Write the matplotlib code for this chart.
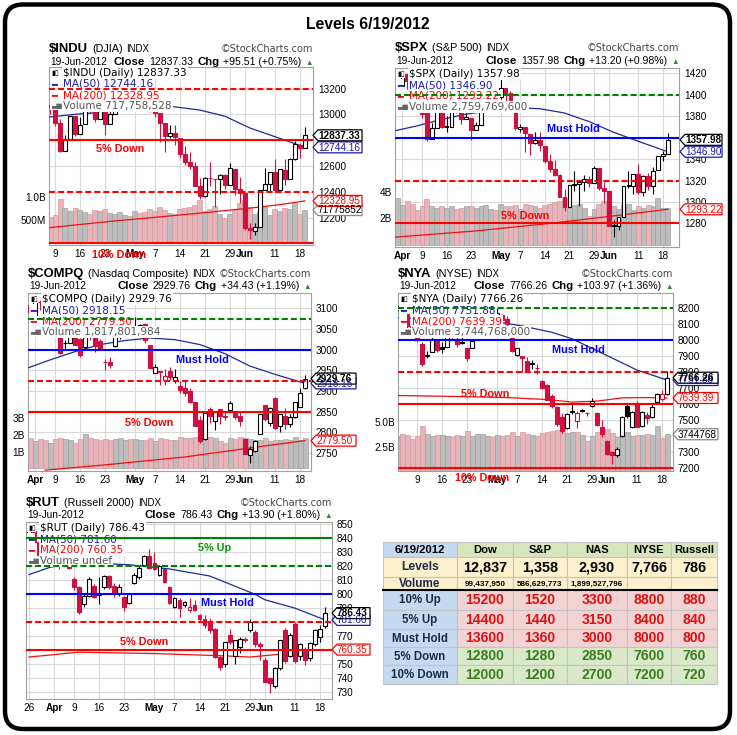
import numpy as np
import matplotlib
matplotlib.use("Agg")
import matplotlib.pyplot as plt
from matplotlib.patches import Polygon, FancyBboxPatch, Rectangle

plt.rcParams["font.family"] = ["Liberation Sans", "DejaVu Sans"]

W, H = 737, 735

# ---- trading days, index 0 = 26-Mar-2012 ... index 59 = 19-Jun-2012
tick_idx = [0, 5, 9, 14, 19, 25, 29, 34, 39, 44, 47, 53, 58]
tick_lbl = ["26", "Apr", "9", "16", "23", "May", "7", "14", "21", "29", "Jun", "11", "18"]
MONTHS = {"Apr", "May", "Jun"}

# ---- $INDU
indu_open = [13081, 13241, 13197, 13124, 13147, 13211, 13263, 13198, 13073, 13058,
             12929, 12717, 12806, 12985, 12850, 12922, 13114, 13032, 12965, 13027,
             12927, 13003, 13091, 13204, 13228, 13214, 13276, 13268, 13206, 13038,
             13007, 12932, 12835, 12853, 12820, 12695, 12632, 12598, 12442, 12370,
             12504, 12502, 12495, 12529, 12456, 12579, 12420, 12391, 12119, 12097,
             12130, 12417, 12457, 12555, 12413, 12571, 12497, 12651, 12766, 12742]
indu_high = [13244, 13290, 13218, 13148, 13235, 13290, 13297, 13198, 13080, 13058,
             12963, 12836, 12990, 12985, 12977, 13131, 13114, 13097, 13090, 13027,
             13031, 13098, 13206, 13264, 13236, 13338, 13276, 13282, 13206, 13066,
             13007, 12932, 12918, 12917, 12820, 12758, 12709, 12633, 12509, 12516,
             12628, 12502, 12537, 12535, 12621, 12579, 12511, 12391, 12156, 12157,
             12416, 12585, 12555, 12650, 12580, 12650, 12664, 12790, 12777, 12900]
indu_low = [13081, 13190, 13090, 13040, 13146, 13144, 13143, 13040, 13001, 12910,
            12710, 12717, 12806, 12830, 12850, 12922, 13013, 12942, 12965, 12843,
            12927, 13003, 13060, 13165, 13176, 13182, 13161, 13166, 13018, 12983,
            12787, 12710, 12815, 12763, 12660, 12610, 12580, 12442, 12342, 12357,
            12443, 12283, 12383, 12421, 12456, 12377, 12310, 12107, 12035, 12063,
            12130, 12417, 12398, 12397, 12404, 12451, 12497, 12649, 12665, 12742]
indu_close = [13242, 13198, 13126, 13146, 13212, 13264, 13200, 13075, 13060, 12930,
              12716, 12805, 12987, 12850, 12921, 13116, 13033, 12964, 13029, 12927,
              13002, 13091, 13205, 13228, 13214, 13279, 13269, 13207, 13038, 13009,
              12932, 12835, 12855, 12821, 12695, 12632, 12599, 12442, 12369, 12504,
              12503, 12496, 12530, 12455, 12581, 12420, 12393, 12119, 12101, 12128,
              12415, 12461, 12554, 12411, 12574, 12496, 12652, 12767, 12742, 12837.33]
indu_vol_m = [620, 640, 660, 650, 700, 600, 690, 650, 560, 600, 950, 760, 700, 770, 720,
              680, 640, 720, 700, 740, 660, 640, 680, 620, 580, 690, 660, 680, 740, 700,
              780, 720, 660, 640, 740, 770, 790, 820, 940, 690, 740, 810, 640, 540, 640,
              740, 870, 930, 780, 640, 700, 780, 620, 730, 690, 770, 750, 900, 640, 718]
indu_ma50_x = [7, 13, 18, 23, 28, 33, 38, 43, 48, 52, 55, 59]
indu_ma50_y = [12975, 13000, 13015, 13045, 13064, 13058, 13033, 12985, 12894, 12840, 12800, 12744.16]
indu_ma200_x = [7, 20, 30, 38, 48, 54, 59]
indu_ma200_y = [12118, 12170, 12205, 12234, 12273, 12300, 12328.95]
indu_levels = [13200, 12800, 12400, 12000]
indu_lstyle = ["r--", "r", "r--", "r"]

# ---- $SPX
spx_open = [1397, 1417, 1413, 1405, 1404, 1408, 1419, 1413, 1399, 1397,
            1383, 1359, 1369, 1387, 1371, 1370, 1390, 1385, 1377, 1378,
            1367, 1372, 1390, 1400, 1403, 1398, 1406, 1402, 1391, 1368,
            1370, 1363, 1355, 1358, 1352, 1338, 1331, 1325, 1305, 1295,
            1316, 1317, 1319, 1321, 1318, 1332, 1313, 1310, 1278, 1278,
            1286, 1316, 1315, 1326, 1309, 1324, 1315, 1330, 1343, 1345]
spx_high = [1417, 1420, 1415, 1405, 1410, 1422, 1419, 1413, 1401, 1397,
            1384, 1374, 1388, 1387, 1380, 1392, 1390, 1391, 1387, 1378,
            1375, 1391, 1402, 1406, 1403, 1415, 1406, 1404, 1391, 1373,
            1370, 1363, 1365, 1365, 1352, 1345, 1339, 1326, 1312, 1316,
            1329, 1320, 1325, 1324, 1334, 1332, 1319, 1310, 1283, 1286,
            1315, 1329, 1326, 1335, 1325, 1327, 1333, 1343, 1348, 1364]
spx_low = [1397, 1411, 1400, 1392, 1401, 1404, 1405, 1394, 1393, 1378,
           1357, 1359, 1369, 1369, 1365, 1370, 1383, 1373, 1377, 1358,
           1367, 1372, 1387, 1397, 1394, 1396, 1393, 1388, 1367, 1365,
           1347, 1344, 1354, 1348, 1336, 1328, 1324, 1305, 1292, 1295,
           1310, 1296, 1310, 1314, 1318, 1311, 1299, 1278, 1267, 1274,
           1286, 1313, 1307, 1307, 1306, 1311, 1307, 1330, 1338, 1345]
spx_close = [1417, 1413, 1406, 1403, 1408, 1419, 1413, 1399, 1398, 1382,
             1359, 1369, 1388, 1370, 1370, 1391, 1385, 1377, 1379, 1367,
             1372, 1391, 1400, 1403, 1398, 1406, 1402, 1392, 1369, 1370,
             1364, 1355, 1358, 1353, 1338, 1331, 1325, 1305, 1295, 1316,
             1317, 1319, 1321, 1318, 1332, 1313, 1310, 1278, 1278, 1286,
             1315, 1315, 1326, 1309, 1324, 1315, 1329, 1343, 1345, 1357.98]
spx_vol_m = [3200, 3100, 3300, 3200, 3500, 3000, 3300, 3100, 2600, 2900, 3450, 2900, 2800, 2900, 2800,
             2900, 2700, 2800, 2900, 2900, 2800, 2900, 3000, 2700, 2600, 3100, 2900, 2900, 3000, 2700,
             3100, 3000, 2900, 2800, 3000, 3100, 3200, 3300, 3500, 2800, 3000, 3100, 2800, 2200, 2700,
             3100, 3300, 3300, 2900, 2700, 3000, 3100, 2600, 2900, 2800, 3000, 2900, 3500, 2800, 2760]
spx_ma50_x = [3, 8, 13, 18, 23, 28, 33, 38, 43, 48, 54, 59]
spx_ma50_y = [1366, 1371, 1377, 1382, 1385, 1388, 1387, 1383, 1375, 1365, 1355, 1346.90]
spx_ma200_x = [3, 20, 35, 48, 59]
spx_ma200_y = [1267, 1273, 1280, 1287, 1293.22]
spx_levels = [1400, 1360, 1320, 1280]
spx_lstyle = ["g--", "b", "r--", "r"]

# ---- $COMPQ
compq_open = [3095, 3126, 3122, 3092, 3109, 3083, 3116, 3090, 3064, 3048,
              3050, 3015, 3017, 3043, 3026, 3006, 3035, 3030, 3020, 2970,
              2971, 3008, 3032, 3059, 3063, 3044, 3039, 3062, 3010, 2944,
              2947, 2926, 2948, 2924, 2913, 2908, 2899, 2872, 2830, 2783,
              2857, 2827, 2856, 2837, 2853, 2846, 2838, 2783, 2744, 2754,
              2795, 2867, 2822, 2883, 2814, 2839, 2820, 2837, 2862, 2906]
compq_high = [3123, 3134, 3124, 3105, 3110, 3120, 3120, 3092, 3086, 3065,
              3057, 3024, 3057, 3043, 3027, 3044, 3047, 3046, 3025, 2977,
              2981, 3031, 3054, 3076, 3064, 3080, 3062, 3064, 3011, 2966,
              2949, 2952, 2957, 2952, 2924, 2925, 2906, 2874, 2840, 2847,
              2861, 2851, 2856, 2848, 2876, 2850, 2848, 2783, 2767, 2782,
              2845, 2867, 2860, 2884, 2843, 2858, 2843, 2873, 2907, 2939]
compq_low = [3091, 3117, 3090, 3076, 3085, 3073, 3095, 3058, 3058, 3039,
             2990, 3002, 3015, 3010, 2981, 3002, 3024, 2994, 2998, 2950,
             2955, 3006, 3026, 3054, 3040, 3044, 3036, 3017, 2956, 2943,
             2914, 2915, 2927, 2920, 2895, 2887, 2871, 2814, 2775, 2780,
             2822, 2805, 2820, 2830, 2851, 2831, 2814, 2746, 2726, 2752,
             2795, 2828, 2816, 2808, 2800, 2807, 2813, 2834, 2861, 2905]
compq_close = [3123, 3120, 3105, 3095, 3092, 3120, 3114, 3068, 3081, 3047,
               2991, 3016, 3056, 3011, 2988, 3043, 3031, 3008, 3000, 2970,
               2962, 3030, 3051, 3069, 3046, 3050, 3060, 3024, 2956, 2958,
               2946, 2935, 2934, 2934, 2903, 2894, 2874, 2814, 2779, 2847,
               2839, 2850, 2839, 2838, 2871, 2837, 2827, 2747, 2760, 2778,
               2845, 2831, 2858, 2810, 2843, 2819, 2836, 2873, 2895, 2929.76]
compq_vol_m = [1700, 1650, 1750, 1700, 1800, 1650, 1750, 1700, 1500, 1750, 1800, 1750, 1700, 1500, 1750,
               2050, 1800, 1750, 1700, 1750, 1700, 1750, 1800, 1700, 1750, 1750, 1700, 1700, 1800, 1650,
               1800, 1750, 1700, 1700, 1850, 1800, 1800, 1900, 2100, 1900, 1850, 1800, 1650, 1500, 1800,
               1750, 1850, 1800, 1750, 1700, 1700, 1800, 1650, 1700, 1700, 1750, 1700, 1900, 1700, 1818]
compq_ma50_x = [3, 8, 13, 18, 23, 28, 33, 38, 43, 48, 53, 59]
compq_ma50_y = [2953, 2975, 2995, 3012, 3022, 3028, 3024, 3012, 2990, 2960, 2940, 2918.15]
compq_ma200_x = [7, 20, 35, 47, 53, 59]
compq_ma200_y = [2708, 2722, 2740, 2760, 2770, 2779.50]
compq_levels = [3075, 3000, 2925, 2850]
compq_lstyle = ["g--", "b", "r--", "r"]

# ---- $NYA
nya_open = [8190, 8235, 8220, 8160, 8165, 8190, 8215, 8165, 8090, 8030,
            7980, 7900, 7930, 8005, 7960, 7960, 8050, 8010, 7990, 7950,
            7955, 8040, 8095, 8140, 8160, 8110, 8160, 8135, 8030, 7910,
            7900, 7870, 7850, 7825, 7745, 7720, 7655, 7585, 7520, 7450,
            7560, 7495, 7562, 7548, 7590, 7545, 7460, 7370, 7300, 7280,
            7400, 7590, 7460, 7610, 7465, 7535, 7520, 7615, 7635, 7665]
nya_high = [8240, 8250, 8225, 8175, 8200, 8230, 8215, 8165, 8105, 8035,
            7990, 7935, 8020, 8010, 7990, 8070, 8060, 8030, 8020, 7955,
            8000, 8095, 8140, 8170, 8165, 8200, 8165, 8150, 8035, 7955,
            7905, 7895, 7880, 7855, 7750, 7730, 7665, 7590, 7545, 7545,
            7600, 7560, 7570, 7555, 7640, 7550, 7500, 7375, 7310, 7335,
            7525, 7610, 7560, 7620, 7560, 7550, 7600, 7670, 7690, 7810]
nya_low = [8185, 8215, 8150, 8120, 8150, 8170, 8150, 8080, 8070, 7990,
           7840, 7890, 7925, 7930, 7920, 7960, 8010, 7960, 7975, 7870,
           7950, 8035, 8080, 8125, 8120, 8105, 8100, 8080, 7930, 7905,
           7800, 7800, 7820, 7790, 7695, 7625, 7580, 7465, 7420, 7445,
           7540, 7450, 7550, 7530, 7585, 7465, 7395, 7285, 7225, 7270,
           7395, 7515, 7450, 7455, 7460, 7480, 7515, 7605, 7620, 7660]
nya_close = [8235, 8220, 8165, 8160, 8190, 8215, 8170, 8090, 8085, 8000,
             7850, 7910, 8010, 7940, 7945, 8060, 8025, 7975, 7985, 7890,
             7995, 8090, 8135, 8160, 8130, 8170, 8125, 8100, 7935, 7950,
             7890, 7815, 7860, 7830, 7700, 7630, 7590, 7480, 7430, 7540,
             7550, 7548, 7556, 7545, 7620, 7470, 7415, 7290, 7285, 7320,
             7520, 7525, 7555, 7460, 7555, 7515, 7585, 7665, 7662, 7766.26]
nya_vol_m = [3800, 3700, 3900, 3800, 4100, 3600, 3800, 3700, 3300, 3600, 4600, 3800, 3600, 3700, 3700,
             3600, 3500, 3700, 3600, 4100, 3600, 3800, 3800, 3600, 3500, 3700, 3600, 3700, 4000, 3600,
             4000, 3800, 3700, 3600, 3900, 4000, 4100, 4200, 4600, 3900, 4000, 4000, 3700, 3100, 3600,
             4000, 4200, 4300, 3900, 3500, 3800, 4000, 3600, 3700, 3700, 3800, 3700, 4600, 3400, 3745]
nya_ma50_x = [5, 15, 23, 30, 36, 40, 46, 53, 59]
nya_ma50_y = [8140, 8135, 8127, 8090, 8050, 8010, 7920, 7814, 7751.88]
nya_ma200_x = [5, 15, 27, 35, 40, 45, 50, 55, 59]
nya_ma200_y = [7655, 7650, 7642, 7630, 7614, 7620, 7640, 7642, 7639.39]
nya_levels = [8200, 8000, 7800, 7600, 7200]
nya_lstyle = ["g--", "b", "r--", "r", "r"]

# ---- $RUT
rut_open = [838, 845, 837, 826, 830, 830, 828, 828, 820, 811,
            805, 793, 799, 806, 800.5, 805, 813, 806, 801, 798,
            794, 808, 812, 821, 827, 822, 814, 818, 805, 791,
            796, 792.5, 789, 792, 785, 782, 781, 775, 755, 750,
            771, 756, 762, 768, 774, 773, 764, 753, 740, 734,
            747, 774, 756, 779, 756, 761, 754, 764, 769, 777]
rut_high = [846, 847, 838, 830, 832, 832, 829, 829, 821, 812,
            806, 800, 812, 807, 812, 814, 814, 808, 807, 799,
            801, 815, 820, 828, 832, 830, 821, 819, 806, 798,
            797, 795, 797, 796, 786, 785, 783, 776, 756, 766,
            775, 767, 769, 769, 782, 774, 766, 754, 741, 748,
            767, 776, 772, 780, 765, 762, 766, 775, 778, 791]
rut_low = [836, 836, 826, 821, 824, 822, 818, 820, 818, 803,
           786, 791, 798, 797, 793, 804, 804, 798, 799, 788,
           793, 807, 811, 820, 818, 817, 813, 808, 793, 790,
           784, 791, 787, 788, 781, 776, 772, 754, 746, 748,
           764, 750, 758, 766, 773, 762, 753, 737, 729, 733,
           746, 751, 755, 751, 753, 749, 752, 763, 766, 776]
rut_close = [845, 837, 828, 829, 830, 828, 822, 822, 819, 805,
             787, 799, 811, 798, 799.5, 813, 805, 801, 805, 791,
             800, 814, 819, 827, 819, 818, 820, 809, 794, 797,
             790, 794.5, 791, 789, 782, 778, 774, 755, 748, 766,
             765.5, 767, 768, 767.5, 780, 764, 763, 737, 736.8, 747,
             767, 752, 771, 752, 764, 753, 765, 774, 775, 786.43]
rut_ma50_x = [0, 4, 8, 14, 20, 28, 36, 45, 47, 53, 59]
rut_ma50_y = [814, 819, 822, 822, 821, 818, 813, 800, 796, 790, 781.60]
rut_ma200_x = [0, 10, 25, 38, 44, 50, 55, 59]
rut_ma200_y = [755, 758.5, 757.5, 756, 755, 757, 760, 760.35]
rut_levels = [840, 820, 800, 780, 760]
rut_lstyle = ["g", "g--", "b", "r--", "r"]

# ---- table
tbl_cols = ["6/19/2012", "Dow", "S&P", "NAS", "NYSE", "Russell"]
tbl_levels = ["12,837", "1,358", "2,930", "7,766", "786"]
tbl_volume = ["99,437,950", "586,629,773", "1,899,527,796", "", ""]
tbl_rows = ["10% Up", "5% Up", "Must Hold", "5% Down", "10% Down"]
tbl_dow = [15200, 14400, 13600, 12800, 12000]
tbl_sp = [1520, 1440, 1360, 1280, 1200]
tbl_nas = [3300, 3150, 3000, 2850, 2700]
tbl_nyse = [8800, 8400, 8000, 7600, 7200]
tbl_rus = [880, 840, 800, 760, 720]

# ---- styling
CRED = "#d01040"
RED, GREEN, BLUE = "#ff0000", "#008000", "#0000ff"
MA50C, MA200C = "#202a9a", "#ee1111"
GRID = "#d9d9d9"
DASH = (0, (2.9, 1.45))
LSTYLE = {"r": (RED, "-"), "r--": (RED, DASH), "g": (GREEN, "-"),
          "g--": (GREEN, DASH), "b": (BLUE, "-")}

fig = plt.figure(figsize=(W / 100, H / 100), dpi=100)
fig.patch.set_facecolor("white")
ov = fig.add_axes([0, 0, 1, 1], zorder=10)
ov.set_xlim(0, W)
ov.set_ylim(H, 0)
ov.axis("off")
ov.patch.set_alpha(0)
R = fig.canvas.get_renderer()


def runs(x, y, parts, gap=4, align="left"):
    objs = []
    for s, sz, wt, col in parts:
        objs.append(ov.text(0, y, s, fontsize=sz, fontweight=wt, color=col,
                            va="baseline", ha="left"))
    ws = [t.get_window_extent(renderer=R).width for t in objs]
    cur = x if align == "left" else x - (sum(ws) + gap * (len(ws) - 1))
    for t, w in zip(objs, ws):
        t.set_x(cur)
        cur += w + gap


def header(x0, x1, b1, b2, sym, name, close_s, chg_s):
    runs(x0, b1, [(sym, 9.4, "bold", "black"), (name, 7.8, "normal", "black"),
                  ("INDX", 7.0, "normal", "black")])
    ov.text(x1, b1, "\u00a9StockCharts.com", fontsize=7, family="DejaVu Sans",
            color="#444444", ha="right", va="baseline")
    ov.text(x0 + 1, b2, "19-Jun-2012", fontsize=7.3, ha="left", va="baseline")
    runs(x1, b2, [("Close", 8.2, "bold", "black"), (close_s, 7.6, "normal", "black"),
                  ("Chg", 8.2, "bold", "black"), (chg_s, 7.6, "normal", "black"),
                  ("\u25b2", 5.5, "normal", "#2e8b2e")], align="right")


def tag(x0, y, w, s, ec, tc, bold=False):
    hh = 5.5
    pts = [(x0, y), (x0 + 5, y - hh), (x0 + w, y - hh), (x0 + w, y + hh), (x0 + 5, y + hh)]
    ov.add_patch(Polygon(pts, closed=True, fc="white", ec=ec, lw=0.9, zorder=20))
    ov.text(x0 + 5, y + 0.3, s, fontsize=7.2, fontweight="bold" if bold else "normal",
            color=tc, va="center", ha="left", zorder=21)


def px_y(ax, v):
    return H - ax.transData.transform((0, v))[1]


def panel(rect, xlim, ylim, yticks, o, h, l, c, ma50, ma200, levels, lstyle, legend,
          vol=None, vlim=None, vticks=None, vlabels=None):
    x0, y0, x1, y1 = rect
    pos = [x0 / W, 1 - y1 / H, (x1 - x0) / W, (y1 - y0) / H]
    xs = np.arange(len(c))
    o, h, l, c = map(np.asarray, (o, h, l, c))
    prev = np.concatenate([[o[0]], c[:-1]])
    cols = np.where(c < prev, CRED, "black")

    if vol is not None:
        base = fig.add_axes(pos, zorder=1)
    ax = fig.add_axes(pos, zorder=2)
    if vol is None:
        base = ax

    # grid
    for t in tick_idx:
        if xlim[0] < t < xlim[1]:
            base.axvline(t, color=GRID, lw=0.8, zorder=0)
    for p in yticks:
        f = (p - ylim[0]) / (ylim[1] - ylim[0])
        base.plot([0, 1], [f, f], transform=base.transAxes, color=GRID, lw=0.8, zorder=0)

    if vol is not None:
        vcol = np.where(c < prev, "#e6b4b9", "#bdbdbd")
        vedge = np.where(c < prev, "#d49aa0", "#a0a0a0")
        base.bar(xs, vol, width=1.0, color=vcol, edgecolor=vedge, lw=0.5, zorder=1)
        base.set_xticks([])
        base.set_yticks(vticks)
        base.set_yticklabels(vlabels)
        base.tick_params(axis="y", length=0, pad=2.2, labelsize=7.2)
        for s in base.spines.values():
            s.set_visible(False)
        base.set_ylim(vlim)
        base.set_xlim(xlim)
        ax.set_facecolor("none")

    # candles
    ax.vlines(xs, l, h, colors=cols, lw=0.8, zorder=3)
    lo = np.minimum(o, c)
    hgt = np.maximum(np.abs(c - o), (ylim[1] - ylim[0]) * 0.001)
    faces = np.where(c < o, cols, "white")
    ax.bar(xs, hgt, bottom=lo, width=0.76, color=faces, edgecolor=cols, lw=0.8, zorder=3.5)

    ax.plot(ma50[0], ma50[1], color=MA50C, lw=0.9, zorder=3.2)
    ax.plot(ma200[0], ma200[1], color=MA200C, lw=0.9, zorder=3.2)

    for v, st in zip(levels, lstyle):
        col, ls = LSTYLE[st]
        ax.axhline(v, color=col, ls=ls, lw=1.5, zorder=5)

    # legend
    icons = {"c": ("\u25ae\u25af", 5.0), "l": ("\u2501", 7.0), "v": ("\u2583\u2586\u2584", 5.0)}
    for i, (ic, s, col) in enumerate(legend):
        yy = 1 - (6 + 11 * i) / (y1 - y0)
        g, gs = icons[ic]
        ax.text(2 / (x1 - x0), yy, g, transform=ax.transAxes, fontsize=gs,
                family="DejaVu Sans", color=col if ic == "l" else ("#666666" if ic == "v" else "black"),
                va="center", ha="left", zorder=4,
                bbox=dict(boxstyle="square,pad=0.1", fc="white", ec="none"))
        ax.text(14 / (x1 - x0), yy, s, transform=ax.transAxes, fontsize=7.5,
                family="DejaVu Sans", color=col, va="center", ha="left", zorder=4,
                bbox=dict(boxstyle="square,pad=0.12", fc="white", ec="none"))

    ax.set_xticks(tick_idx)
    ax.set_xticklabels(tick_lbl)
    for lab in ax.get_xticklabels():
        if lab.get_text() in MONTHS:
            lab.set_fontweight("bold")
    ax.tick_params(axis="x", length=0, pad=3.0, labelsize=7.2)
    ax.yaxis.tick_right()
    ax.set_yticks(yticks)
    ax.set_yticklabels([str(t) for t in yticks])
    ax.tick_params(axis="y", length=0, pad=3.5, labelsize=7.2)
    # limits last: set_*ticks would otherwise widen the view
    ax.set_xlim(xlim)
    ax.set_ylim(ylim)
    for s in ax.spines.values():
        s.set_color("#a0a0a0")
        s.set_linewidth(0.8)
    return ax, base


def level_label(ax, v, s, col, x, dy):
    ov.text(x, px_y(ax, v) + dy, s, fontsize=7.8, fontweight="bold", color=col,
            ha="center", va="center", zorder=15)


# border and title
ov.add_patch(FancyBboxPatch((5, 4.5), 725, 724.5, boxstyle="round,pad=0,rounding_size=18",
                            fc="none", ec="black", lw=3.2, zorder=1))
ov.text(368, 29, "Levels 6/19/2012", fontsize=11.3, fontweight="bold", ha="center", va="baseline")

# ---- INDU
ax, axv = panel((49, 67, 313, 245), (7.8, 60.6), (11987, 13367),
                [12200, 12400, 12600, 12800, 13000, 13200],
                indu_open, indu_high, indu_low, indu_close,
                (indu_ma50_x, indu_ma50_y), (indu_ma200_x, indu_ma200_y),
                indu_levels, indu_lstyle,
                [("c", "$INDU (Daily) 12837.33", "black"), ("l", "MA(50) 12744.16", "#1a1aa6"),
                 ("l", "MA(200) 12328.95", RED), ("v", "Volume 717,758,528", "#555555")],
                vol=indu_vol_m, vlim=(-43, 3830), vticks=[500, 1000], vlabels=["500M", "1.0B"])
header(49, 313, 52.3, 64.5, "$INDU", "(DJIA)", "12837.33", "+95.51 (+0.75%)")
level_label(ax, 12800, "5% Down", RED, 120, 9)
level_label(ax, 12000, "10% Down", RED, 119, 12)
tag(313, H - axv.transData.transform((0, 717.758528))[1], 49, "71775852", "#888888", "black")
tag(313, px_y(ax, 12328.95), 49, "12328.95", RED, RED)
tag(313, px_y(ax, 12744.16), 49, "12744.16", "#1a1aa6", "#1a1aa6")
tag(313, px_y(ax, 12837.33), 49, "12837.33", "black", "black", bold=True)

# ---- SPX
ax, axv = panel((395, 68, 679, 247), (3.5, 61.3), (1258, 1425),
                [1280, 1300, 1320, 1340, 1360, 1380, 1400, 1420],
                spx_open, spx_high, spx_low, spx_close,
                (spx_ma50_x, spx_ma50_y), (spx_ma200_x, spx_ma200_y),
                spx_levels, spx_lstyle,
                [("c", "$SPX (Daily) 1357.98", "black"), ("l", "MA(50) 1346.90", "#1a1aa6"),
                 ("l", "MA(200) 1293.22", RED), ("v", "Volume 2,759,769,600", "#555555")],
                vol=spx_vol_m, vlim=(-160, 13300), vticks=[2000, 4000], vlabels=["2B", "4B"])
header(395, 679, 50.7, 64, "$SPX", "(S&P 500)", "1357.98", "+13.20 (+0.98%)")
level_label(ax, 1360, "Must Hold", BLUE, 573, -9)
level_label(ax, 1280, "5% Down", RED, 525, -7)
tag(680, px_y(ax, 1293.22), 42, "1293.22", RED, RED)
tag(680, px_y(ax, 1346.90), 42, "1346.90", "#1a1aa6", "#1a1aa6")
tag(680, px_y(ax, 1357.98), 42, "1357.98", "black", "black", bold=True)

# ---- COMPQ
ax, axv = panel((28, 293, 311, 471), (3.6, 60.2), (2706, 3137),
                [2750, 2800, 2850, 2900, 2950, 3000, 3050, 3100],
                compq_open, compq_high, compq_low, compq_close,
                (compq_ma50_x, compq_ma50_y), (compq_ma200_x, compq_ma200_y),
                compq_levels, compq_lstyle,
                [("c", "$COMPQ (Daily) 2929.76", "black"), ("l", "MA(50) 2918.15", "#1a1aa6"),
                 ("l", "MA(200) 2779.50", RED), ("v", "Volume 1,817,801,984", "#555555")],
                vol=compq_vol_m, vlim=(-160, 10500), vticks=[1000, 2000, 3000],
                vlabels=["1B", "2B", "3B"])
header(28, 311, 276.7, 288.5, "$COMPQ", "(Nasdaq Composite)", "2929.76", "+34.43 (+1.19%)")
level_label(ax, 3000, "Must Hold", BLUE, 202, 10)
level_label(ax, 2850, "5% Down", RED, 149, 11)
tag(311, px_y(ax, 2779.50), 45, "2779.50", RED, RED)
tag(311, px_y(ax, 2918.15), 45, "2918.15", "#1a1aa6", "#1a1aa6")
tag(311, px_y(ax, 2929.76), 45, "2929.76", "black", "black", bold=True)

# ---- NYA
ax, axv = panel((398, 293, 673, 471), (5.2, 60.2), (7183, 8296),
                [7200, 7300, 7400, 7500, 7600, 7700, 7800, 7900, 8000, 8100, 8200],
                nya_open, nya_high, nya_low, nya_close,
                (nya_ma50_x, nya_ma50_y), (nya_ma200_x, nya_ma200_y),
                nya_levels, nya_lstyle,
                [("c", "$NYA (Daily) 7766.26", "black"), ("l", "MA(50) 7751.88", "#1a1aa6"),
                 ("l", "MA(200) 7639.39", RED), ("v", "Volume 3,744,768,000", "#555555")],
                vol=nya_vol_m, vlim=(70, 17870), vticks=[2500, 5000], vlabels=["2.5B", "5.0B"])
header(398, 673, 276.7, 289.3, "$NYA", "(NYSE)", "7766.26", "+103.97 (+1.36%)")
level_label(ax, 8000, "Must Hold", BLUE, 578, 10)
level_label(ax, 7600, "5% Down", RED, 485, -10)
level_label(ax, 7200, "10% Down", RED, 482, 10)
tag(673, H - axv.transData.transform((0, 3744.768))[1], 45, "3744768", "#888888", "black")
tag(673, px_y(ax, 7639.39), 45, "7639.39", RED, RED)
tag(673, px_y(ax, 7751.88), 45, "7751.88", "#1a1aa6", "#1a1aa6")
tag(673, px_y(ax, 7766.26), 45, "7766.26", "black", "black", bold=True)

# ---- RUT
ax, _ = panel((26, 522, 332, 699), (-0.6, 60.4), (725, 851.6),
              list(range(730, 851, 10)),
              rut_open, rut_high, rut_low, rut_close,
              (rut_ma50_x, rut_ma50_y), (rut_ma200_x, rut_ma200_y),
              rut_levels, rut_lstyle,
              [("c", "$RUT (Daily) 786.43", "black"), ("l", "MA(50) 781.60", "#1a1aa6"),
               ("l", "MA(200) 760.35", RED), ("v", "Volume undef", "#555555")])
header(26, 332, 506, 517.7, "$RUT", "(Russell 2000)", "786.43", "+13.90 (+1.80%)")
level_label(ax, 840, "5% Up", "#009900", 215, 10)
level_label(ax, 800, "Must Hold", BLUE, 227, 9)
level_label(ax, 760, "5% Down", RED, 144, -8)
tag(332, px_y(ax, 760.35), 38, "760.35", RED, RED)
tag(332, px_y(ax, 781.60), 38, "781.60", "#1a1aa6", "#1a1aa6")
tag(332, px_y(ax, 786.43), 38, "786.43", "black", "black", bold=True)

# ---- levels table
cx = [383, 457, 513, 567, 627, 671, 717]
ry = [542, 557, 577, 590, 610, 629, 647, 665, 684]
BLUECELL, GREENHEAD, YEL, PINK, LGREEN = "#c5d9f1", "#d8e4bc", "#fdf0cd", "#f2d3d3", "#d8e8c8"
UPTXT, DNTXT, LBLTXT = "#e01010", "#3a7d1e", "#1c2a48"


def cell(ci, ri, fc):
    ov.add_patch(Rectangle((cx[ci], ry[ri]), cx[ci + 1] - cx[ci], ry[ri + 1] - ry[ri],
                           fc=fc, ec="#c4c4c4", lw=0.8, zorder=2))


def ctext(ci, ri, s, size, col):
    ov.text((cx[ci] + cx[ci + 1]) / 2, (ry[ri] + ry[ri + 1]) / 2 + 0.5, s, fontsize=size,
            fontweight="bold", color=col, ha="center", va="center", zorder=3)


for ci, s in enumerate(tbl_cols):
    cell(ci, 0, BLUECELL if ci == 0 else GREENHEAD)
    ctext(ci, 0, s, 8.1, "black")
cell(0, 1, YEL)
ctext(0, 1, "Levels", 8.7, LBLTXT)
cell(0, 2, YEL)
ctext(0, 2, "Volume", 8.4, LBLTXT)
for ci, s in enumerate(tbl_levels):
    cell(ci + 1, 1, YEL)
    ctext(ci + 1, 1, s, 10.4, "black")
for ci, s in enumerate(tbl_volume):
    cell(ci + 1, 2, YEL)
    ctext(ci + 1, 2, s, 5.9, "black")
for ri, name in enumerate(tbl_rows):
    r = ri + 3
    up = ri < 3
    cell(0, r, BLUECELL)
    ctext(0, r, name, 8.3, LBLTXT)
    for ci, vals in enumerate([tbl_dow, tbl_sp, tbl_nas, tbl_nyse, tbl_rus]):
        cell(ci + 1, r, PINK if up else LGREEN)
        ctext(ci + 1, r, str(vals[ri]), 10.1, UPTXT if up else DNTXT)
ov.plot([cx[0], cx[-1]], [ry[3], ry[3]], color="black", lw=1.5, zorder=4)

fig.savefig("out.png", dpi=100)
